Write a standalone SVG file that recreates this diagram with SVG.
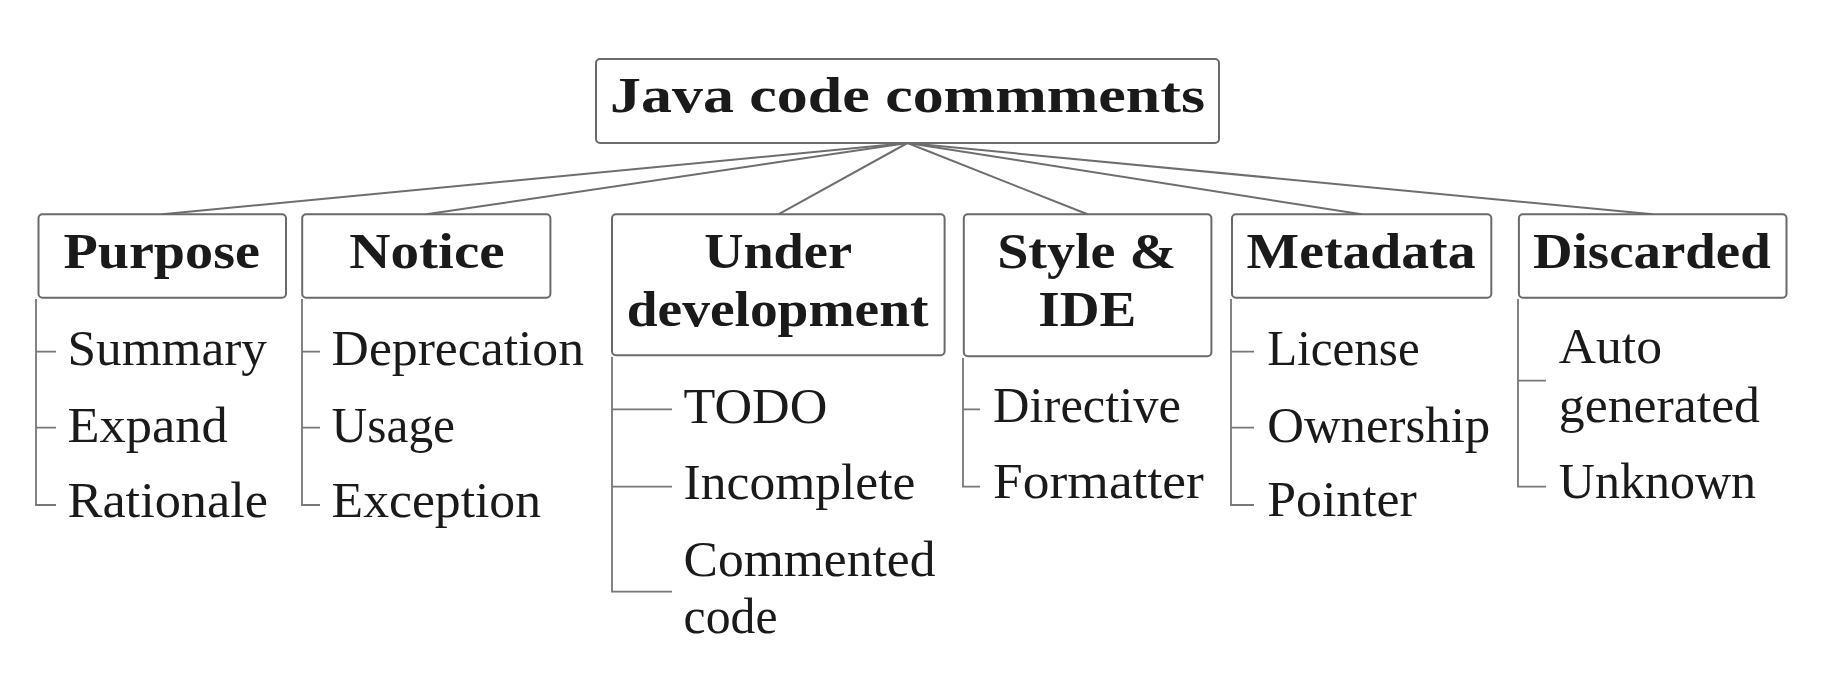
<svg xmlns="http://www.w3.org/2000/svg" width="1838" height="688" viewBox="0 0 1838 688">
<style>
  .box { fill: #ffffff; stroke: #6a6a6a; stroke-width: 2; }
  .hd { font-family: "Liberation Serif", "Times New Roman", serif; font-weight: bold; font-size: 50px; fill: #1a1a1a; }
  .lf { font-family: "Liberation Serif", "Times New Roman", serif; font-size: 50px; fill: #1a1a1a; }
  .edge { fill: none; stroke: #6e6e6e; stroke-width: 2; }
  .tree { fill: none; stroke: #777777; stroke-width: 1.8; }
</style>
<rect width="1838" height="688" fill="#ffffff"/>

<g id="connectors">
  <line class="edge" x1="907.5" y1="143" x2="162.2" y2="214.3"/>
  <line class="edge" x1="907.5" y1="143" x2="426.3" y2="214.3"/>
  <line class="edge" x1="907.5" y1="143" x2="778.3" y2="214.3"/>
  <line class="edge" x1="907.5" y1="143" x2="1087.6" y2="214.3"/>
  <line class="edge" x1="907.5" y1="143" x2="1361.6" y2="214.3"/>
  <line class="edge" x1="907.5" y1="143" x2="1652.7" y2="214.3"/>
  <!-- Purpose list -->
  <path class="tree" d="M36 299 V505 H56 M36 351.7 H56 M36 427.7 H56"/>
  <!-- Notice list -->
  <path class="tree" d="M302 299 V505 H320 M302 351.7 H320 M302 427.7 H320"/>
  <!-- Under development list -->
  <path class="tree" d="M612 357 V591.7 H672 M612 409.3 H672 M612 486.7 H672"/>
  <!-- Style & IDE list -->
  <path class="tree" d="M963 358 V486.7 H980 M963 409.3 H980"/>
  <!-- Metadata list -->
  <path class="tree" d="M1231 299 V505 H1254 M1231 351.7 H1254 M1231 427.7 H1254"/>
  <!-- Discarded list -->
  <path class="tree" d="M1518 299 V486.7 H1546 M1518 380.7 H1546"/>
</g>

<g id="root">
  <rect class="box" x="596" y="59" width="623" height="84" rx="4"/>
  <text class="hd" x="610" y="111.7" textLength="595" lengthAdjust="spacingAndGlyphs">Java code commments</text>
</g>

<g id="purpose">
  <rect class="box" x="38.5" y="214.3" width="247.5" height="83.4" rx="4"/>
  <text class="hd" x="63.4" y="268.3" textLength="196.6" lengthAdjust="spacingAndGlyphs">Purpose</text>
</g>
<g id="notice">
  <rect class="box" x="302.2" y="214.3" width="248.2" height="83.4" rx="4"/>
  <text class="hd" x="349.2" y="268.3" textLength="155.5" lengthAdjust="spacingAndGlyphs">Notice</text>
</g>
<g id="under-development">
  <rect class="box" x="612" y="214.3" width="332.6" height="141" rx="4"/>
  <text class="hd" x="704.2" y="268.3" textLength="147.8" lengthAdjust="spacingAndGlyphs">Under</text>
  <text class="hd" x="626.8" y="326" textLength="301.6" lengthAdjust="spacingAndGlyphs">development</text>
</g>
<g id="style-ide">
  <rect class="box" x="963.8" y="214.3" width="247.6" height="142" rx="4"/>
  <text class="hd" x="997.2" y="268.3" textLength="179" lengthAdjust="spacingAndGlyphs">Style &amp;</text>
  <text class="hd" x="1038.3" y="326" textLength="98" lengthAdjust="spacingAndGlyphs">IDE</text>
</g>
<g id="metadata">
  <rect class="box" x="1232" y="214.3" width="259.3" height="83.4" rx="4"/>
  <text class="hd" x="1246.6" y="268.3" textLength="228.9" lengthAdjust="spacingAndGlyphs">Metadata</text>
</g>
<g id="discarded">
  <rect class="box" x="1518.9" y="214.3" width="267.6" height="83.4" rx="4"/>
  <text class="hd" x="1533" y="268.3" textLength="237.7" lengthAdjust="spacingAndGlyphs">Discarded</text>
</g>

<g id="summary"><text class="lf" x="67.5" y="365" textLength="199.5" lengthAdjust="spacingAndGlyphs">Summary</text></g>
<g id="expand"><text class="lf" x="67.5" y="441.7" textLength="160.2" lengthAdjust="spacingAndGlyphs">Expand</text></g>
<g id="rationale"><text class="lf" x="67.5" y="516.7" textLength="200.5" lengthAdjust="spacingAndGlyphs">Rationale</text></g>

<g id="deprecation"><text class="lf" x="331.6" y="365" textLength="252.4" lengthAdjust="spacingAndGlyphs">Deprecation</text></g>
<g id="usage"><text class="lf" x="331.6" y="441.7" textLength="123.4" lengthAdjust="spacingAndGlyphs">Usage</text></g>
<g id="exception"><text class="lf" x="331.6" y="516.7" textLength="209.4" lengthAdjust="spacingAndGlyphs">Exception</text></g>

<g id="todo"><text class="lf" x="683.6" y="422.7" textLength="143.8" lengthAdjust="spacingAndGlyphs">TODO</text></g>
<g id="incomplete"><text class="lf" x="683.6" y="499.3" textLength="231.8" lengthAdjust="spacingAndGlyphs">Incomplete</text></g>
<g id="commented-code">
  <text class="lf" x="683.6" y="576" textLength="251.8" lengthAdjust="spacingAndGlyphs">Commented</text>
  <text class="lf" x="683.6" y="633.3" textLength="93.9" lengthAdjust="spacingAndGlyphs">code</text>
</g>

<g id="directive"><text class="lf" x="993.1" y="421.7" textLength="187.8" lengthAdjust="spacingAndGlyphs">Directive</text></g>
<g id="formatter"><text class="lf" x="993.1" y="498.3" textLength="210.7" lengthAdjust="spacingAndGlyphs">Formatter</text></g>

<g id="license"><text class="lf" x="1267.2" y="365" textLength="152.5" lengthAdjust="spacingAndGlyphs">License</text></g>
<g id="ownership"><text class="lf" x="1267.2" y="441.7" textLength="223" lengthAdjust="spacingAndGlyphs">Ownership</text></g>
<g id="pointer"><text class="lf" x="1267.2" y="516" textLength="149.6" lengthAdjust="spacingAndGlyphs">Pointer</text></g>

<g id="auto-generated">
  <text class="lf" x="1558.8" y="363.3" textLength="103.2" lengthAdjust="spacingAndGlyphs">Auto</text>
  <text class="lf" x="1558.8" y="421.7" textLength="201.2" lengthAdjust="spacingAndGlyphs">generated</text>
</g>
<g id="unknown"><text class="lf" x="1558.8" y="498.3" textLength="197.2" lengthAdjust="spacingAndGlyphs">Unknown</text></g>
</svg>
